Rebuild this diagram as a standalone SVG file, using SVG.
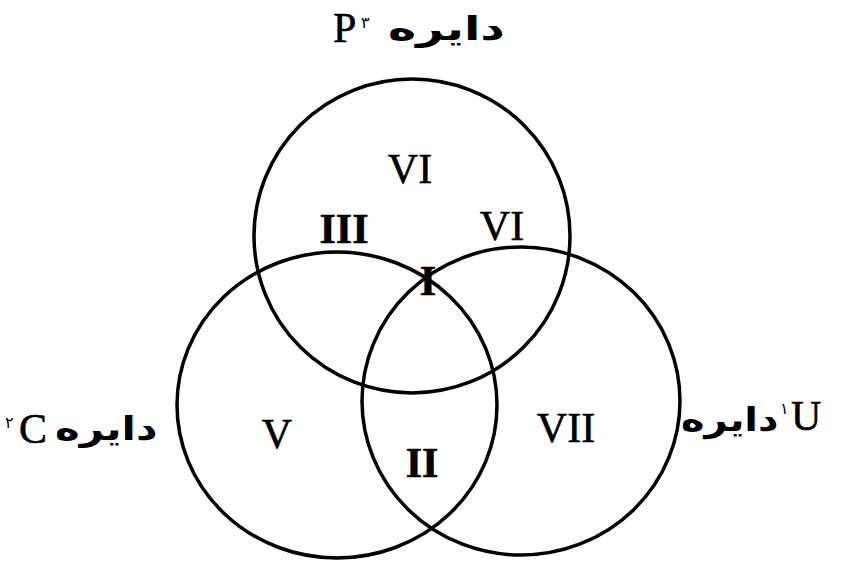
<svg xmlns="http://www.w3.org/2000/svg" width="846" height="561" viewBox="0 0 846 561">
<style>
.c{fill:none;stroke:#000;stroke-width:3.5}
.r{font-family:"Liberation Serif","Times New Roman",serif;font-size:42px;fill:#000;stroke:#000;stroke-width:0.6;text-anchor:middle}
.b{font-weight:bold}
.lat{font-family:"Liberation Serif","Times New Roman",serif;font-size:42px;fill:#000;stroke:#000;stroke-width:0.6}
.fa{font-family:"DejaVu Sans",sans-serif;font-weight:bold;font-size:33px;fill:#000}
.sup{font-family:"DejaVu Sans",sans-serif;font-size:16px;fill:#000}
</style>
<rect width="846" height="561" fill="#fff"/>
<g id="circleP">
<ellipse class="c" cx="412" cy="236" rx="158" ry="157"/>
<text class="r" x="410" y="183">VI</text>
</g>
<g id="circleC">
<ellipse class="c" cx="337" cy="405" rx="160" ry="153"/>
<text class="r" x="277" y="448">V</text>
</g>
<g id="circleU">
<ellipse class="c" cx="521" cy="401" rx="159" ry="154"/>
<text class="r" x="566" y="442">VII</text>
</g>
<g id="regions">
<text class="r b" x="344" y="243">III</text>
<text class="r" x="502" y="240">VI</text>
<text class="r b" x="428" y="295">I</text>
<text class="r b" x="422" y="477">II</text>
</g>
<g id="labelP">
<text class="lat" x="333" y="42">P</text>
<text class="sup" x="361" y="28">۳</text>
<text class="fa" transform="translate(388,40) scale(1.45,1)">دایره</text>
</g>
<g id="labelC">
<text class="sup" x="5" y="428">۲</text>
<text class="lat" x="19" y="443">C</text>
<text class="fa" transform="translate(55,440) scale(1.27,1)">دایره</text>
</g>
<g id="labelU">
<text class="fa" transform="translate(681,431) scale(1.21,1)">دایره</text>
<text class="sup" x="780" y="414">۱</text>
<text class="lat" x="791" y="430">U</text>
</g>
<g id="connectors"></g>
</svg>
